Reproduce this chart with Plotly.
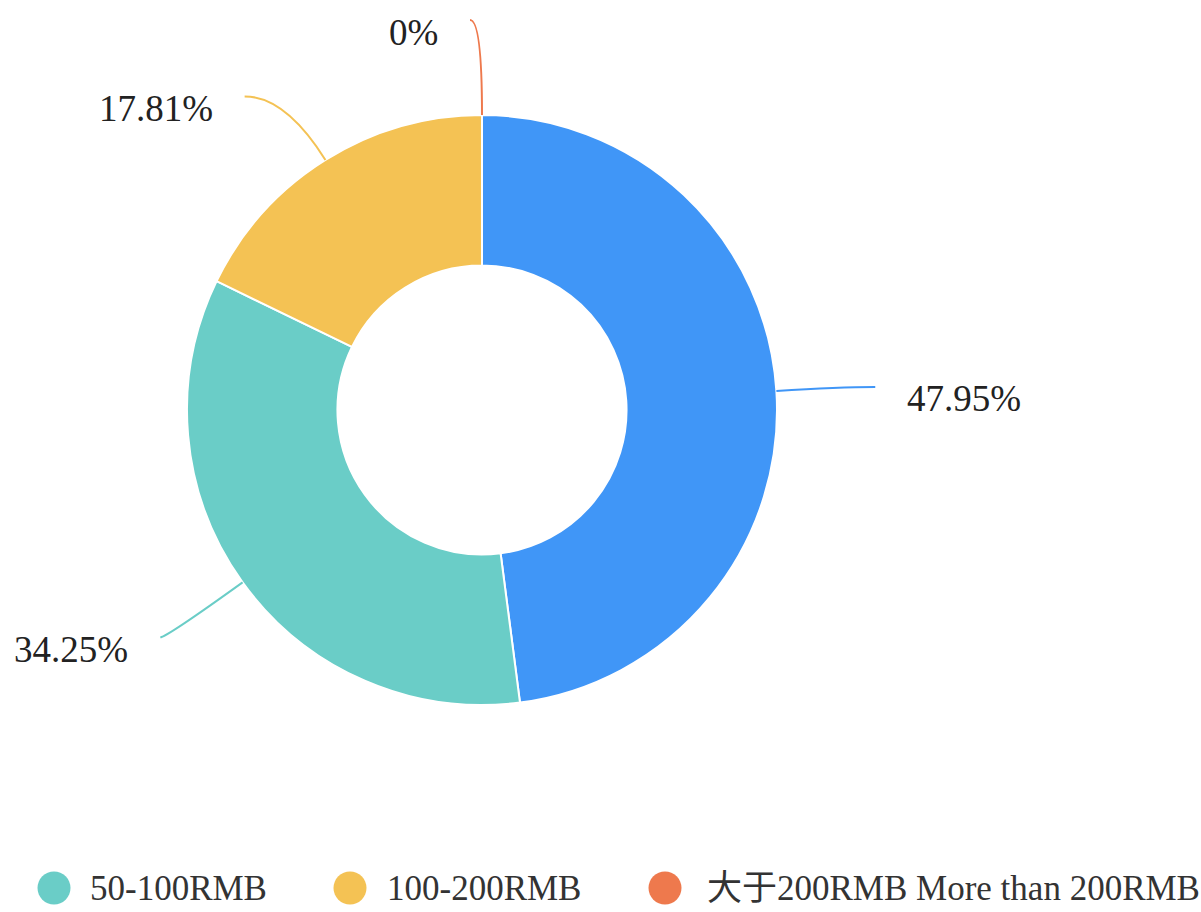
import math
import plotly.graph_objects as go

# ---- data ----
categories = ["小于50RMB Less than 50RMB", "50-100RMB", "100-200RMB", "大于200RMB More than 200RMB"]
values = [47.95, 34.25, 17.81, 0]
legend_labels = ["50-100RMB", "100-200RMB", "大于200RMB More than 200RMB"]

# ---- style ----
colors = ["#4096F7", "#6ACDC7", "#F4C254", "#EE794D"]
legend_colors = colors[1:]
FONT = "Liberation Serif, 'Noto Sans CJK SC', serif"
W, H = 1201, 912
CX, CY, R = 482, 410, 295          # pie centre / radius in pixels
HOLE = 0.49
len1 = [63, 94, 75, 95]             # radial leader length
len2 = [36, 6, 41, 12]              # horizontal leader length
LABEL_GAP = 30
LABEL_DY = 12


def px(x):
    return x / W


def py(y):
    return 1 - y / H


fig = go.Figure()
fig.add_trace(go.Pie(
    labels=categories,
    values=values,
    hole=HOLE,
    sort=False,
    direction="clockwise",
    rotation=0,
    textinfo="none",
    marker=dict(colors=colors, line=dict(color="white", width=2)),
    showlegend=False,
    domain=dict(x=[px(CX - R), px(CX + R)], y=[py(CY + R), py(CY - R)]),
    hoverinfo="label+percent",
))

shapes = []
annotations = []
total = sum(values)
cum = 0.0
for i, v in enumerate(values):
    theta = 2 * math.pi * (cum + v / 2) / total
    cum += v
    sx, sy = math.sin(theta), -math.cos(theta)
    x0, y0 = CX + R * sx, CY + R * sy
    ex, ey = CX + (R + len1[i]) * sx, CY + (R + len1[i]) * sy
    side = 1 if theta < math.pi else -1
    x2, y2 = ex + side * len2[i], ey
    path = "M {:.5f},{:.5f} Q {:.5f},{:.5f} {:.5f},{:.5f}".format(
        px(x0), py(y0), px(ex), py(ey), px(x2), py(y2))
    shapes.append(dict(type="path", path=path, xref="paper", yref="paper",
                       line=dict(color=colors[i], width=2)))
    annotations.append(dict(
        x=px(x2 + side * LABEL_GAP), y=py(y2 + LABEL_DY),
        xref="paper", yref="paper",
        xanchor="left" if side > 0 else "right", yanchor="middle",
        text="{:g}%".format(v), showarrow=False,
        font=dict(family=FONT, size=37, color="#222222"),
    ))

# ---- manual legend (bottom) ----
leg_cx = [54, 350, 665]
leg_tx = [88, 385, 705]
LEG_Y = 888
LEG_R = 16.5
for i, lab in enumerate(legend_labels):
    shapes.append(dict(type="circle", xref="paper", yref="paper",
                       x0=px(leg_cx[i] - LEG_R), x1=px(leg_cx[i] + LEG_R),
                       y0=py(LEG_Y + LEG_R), y1=py(LEG_Y - LEG_R),
                       fillcolor=legend_colors[i], line=dict(width=0)))
    annotations.append(dict(
        x=px(leg_tx[i]), y=py(LEG_Y), xref="paper", yref="paper",
        xanchor="left", yanchor="middle", text=lab, showarrow=False,
        font=dict(family=FONT, size=35, color="#333333"),
    ))

fig.update_layout(
    width=W, height=H, autosize=False,
    margin=dict(l=0, r=0, t=0, b=0),
    paper_bgcolor="white", plot_bgcolor="white",
    shapes=shapes, annotations=annotations,
    font=dict(family=FONT),
)

fig.write_html("out.html", config={"displayModeBar": False},
               post_script="document.body.style.margin='0';")
